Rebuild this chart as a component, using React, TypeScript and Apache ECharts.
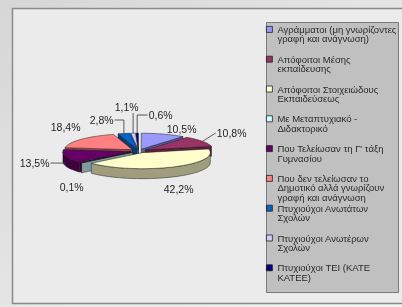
import React, { useEffect, useRef } from 'react';
import * as echarts from 'echarts';

// ---- data ----
const categories = [
  'Αγράμματοι (μη γνωρίζοντες\nγραφή και ανάγνωση)',
  'Απόφοιτοι Μέσης\nεκπαίδευσης',
  'Απόφοιτοι Στοιχειώδους\nΕκπαιδεύσεως',
  'Με Μεταπτυχιακό -\nΔιδακτορικό',
  "Που Τελείωσαν τη Γ' τάξη\nΓυμνασίου",
  'Που δεν τελείωσαν το\nΔημοτικό αλλά γνωρίζουν\nγραφή και ανάγνωση',
  'Πτυχιούχοι Ανωτάτων\nΣχολών',
  'Πτυχιούχοι Ανωτέρων\nΣχολών',
  'Πτυχιούχοι ΤΕΙ (ΚΑΤΕ\nΚΑΤΕΕ)',
];
const values = [10.5, 10.8, 42.2, 0.1, 13.5, 18.4, 2.8, 1.1, 0.6];
const colors = ['#9999FF', '#993366', '#FFFFCC', '#CCFFFF', '#660066', '#FF8080', '#0066CC', '#CCCCFF', '#000080'];

// ---- layout ----
const CX = 138.6;
const CY = 151;
const RX = 68;
const RY = 16;
const H = 10;
const EXPLODE = 8;
const labelOffsets: number[][] = [
  [43, -22], [93, -18], [40, 38], [-67, 36], [-104, 12], [-73, -24], [-37, -31], [-12, -44], [22, -36],
];
const leaderKinds = ['none', 'toLeftEdge', 'none', 'none', 'toRightEdge', 'none', 'elbowLeft', 'up', 'elbowRight'];
const LABEL_FONT = 10.5;
const LEGEND_FIRST = 29;
const LEGEND_STEP = 29.8;
const LEGEND_LH = 9.5;

const total = values.reduce((a, b) => a + b, 0);
const startAngles = values.map((_, i) => (values.slice(0, i).reduce((a, b) => a + b, 0) / total) * 360);

function shade(hex: string, f: number) {
  const n = parseInt(hex.slice(1), 16);
  const r = Math.round(((n >> 16) & 255) * f);
  const g = Math.round(((n >> 8) & 255) * f);
  const b = Math.round((n & 255) * f);
  return `rgb(${r},${g},${b})`;
}

const charW: Record<string, number> = { ',': 0.278, '%': 0.889 };
function textW(s: string) {
  let w = 0;
  for (const c of s) w += (charW[c] ?? 0.556) * LABEL_FONT;
  return w;
}

const rad = (d: number) => (d * Math.PI) / 180;

function makeRenderItem(i: number) {
  return (_params: any, api: any) => {
    const v = api.value(0) as number;
    const a0 = startAngles[i];
    const a1 = a0 + (v / total) * 360;
    const m = (a0 + a1) / 2;
    const ox = EXPLODE * Math.sin(rad(m));
    const oy = -EXPLODE * (RY / RX) * Math.cos(rad(m));
    const P = (deg: number, drop = 0) => [CX + ox + RX * Math.sin(rad(deg)), CY + oy - RY * Math.cos(rad(deg)) + drop];
    const C = [CX + ox, CY + oy];
    const Cb = [C[0], C[1] + H];
    const arc = (from: number, to: number, drop: number) => {
      const n = Math.max(2, Math.ceil(Math.abs(to - from) / 2));
      const pts: number[][] = [];
      for (let k = 0; k <= n; k++) pts.push(P(from + ((to - from) * k) / n, drop));
      return pts;
    };
    const depth = -Math.cos(rad(m));
    const zBase = Math.round((depth + 1) * 1000) * 4;
    const side = shade(colors[i], 0.62);
    const stroke = '#1a1a1a';
    const children: any[] = [];
    if (Math.sin(rad(a0)) < -1e-6) {
      children.push({ type: 'polygon', z2: zBase, shape: { points: [C, P(a0), P(a0, H), Cb] }, style: { fill: side, stroke, lineWidth: 0.5 } });
    }
    if (Math.sin(rad(a1)) > 1e-6) {
      children.push({ type: 'polygon', z2: zBase, shape: { points: [C, P(a1), P(a1, H), Cb] }, style: { fill: side, stroke, lineWidth: 0.5 } });
    }
    const lo = Math.max(a0, 90);
    const hi = Math.min(a1, 270);
    if (hi > lo) {
      children.push({ type: 'polygon', z2: zBase + 1, shape: { points: [...arc(lo, hi, 0), ...arc(hi, lo, H)] }, style: { fill: side, stroke, lineWidth: 0.5 } });
    }
    children.push({ type: 'polygon', z2: zBase + 2, shape: { points: [C, ...arc(a0, a1, 0)] }, style: { fill: colors[i], stroke, lineWidth: 0.5 } });

    // label
    const txt = ((v / total) * 100).toFixed(1).replace('.', ',') + '%';
    const L = [CX + labelOffsets[i][0], CY + labelOffsets[i][1]];
    const hw = textW(txt) / 2;
    children.push({
      type: 'text', z2: 100000,
      style: { text: txt, x: L[0], y: L[1], align: 'center', verticalAlign: 'middle', fill: '#1e1e1e', font: `${LABEL_FONT}px "Liberation Sans", Arial, sans-serif` },
    });
    const Pm = P(m);
    let pts: number[][] | null = null;
    switch (leaderKinds[i]) {
      case 'toLeftEdge': pts = [Pm, [L[0] - hw - 1, L[1]]]; break;
      case 'toRightEdge': pts = [[L[0] + hw + 1, L[1]], [Pm[0], Pm[1] + H * 0.7]]; break;
      case 'elbowLeft': pts = [Pm, [Pm[0], L[1]], [L[0] + hw + 1, L[1]]]; break;
      case 'elbowRight': pts = [Pm, [Pm[0], L[1]], [L[0] - hw - 1, L[1]]]; break;
      case 'up': pts = [Pm, [Pm[0], L[1] + 6]]; break;
    }
    if (pts) children.push({ type: 'polyline', z2: 99999, shape: { points: pts }, style: { stroke: '#333', lineWidth: 0.8, fill: 'none' } });
    return { type: 'group', children };
  };
}

export default function App() {
  const ref = useRef<HTMLDivElement>(null);
  useEffect(() => {
    if (!ref.current) return;
    const chart = echarts.init(ref.current, null, { renderer: 'svg' });
    const legends = categories.map((name, i) => {
      const lines = name.split('\n').length;
      const itemH = lines * LEGEND_LH;
      const sqTop = LEGEND_LH / 2 - 3;
      // square icon sitting on the first text line; trailing moves set the item's extent
      const icon = `path://M0,${sqTop}L6,${sqTop}L6,${sqTop + 6}L0,${sqTop + 6}Z M0,0 M6,${itemH}`;
      return {
        data: [name],
        orient: 'vertical',
        left: 266,
        top: LEGEND_FIRST + LEGEND_STEP * i - LEGEND_LH / 2,
        padding: 0,
        itemWidth: 6,
        itemHeight: itemH,
        icon,
        selectedMode: false,
        itemStyle: { borderColor: '#222', borderWidth: 0.8 },
        textStyle: {
          fontSize: 9.5,
          lineHeight: LEGEND_LH,
          color: '#2a2a2a',
          fontFamily: '"Liberation Sans", Arial, sans-serif',
        },
      };
    });
    chart.setOption({
      animation: false,
      graphic: [
        { type: 'rect', z: 0, silent: true, shape: { x: 0, y: 0, width: 402, height: 307 },
          style: { fill: { type: 'linear', x: 0, y: 0, x2: 1, y2: 1, colorStops: [{ offset: 0, color: '#d6d6d6' }, { offset: 1, color: '#f4f4f4' }] } } },
        { type: 'rect', z: 0, silent: true, shape: { x: 12.5, y: 8.5, width: 400, height: 295 },
          style: { fill: '#ebebeb', stroke: '#8a8a8a', lineWidth: 1.5 } },
        { type: 'rect', z: 1, silent: true, shape: { x: 266.5, y: 22.5, width: 132, height: 270 },
          style: { fill: '#c0c0c0', stroke: '#7a7a7a', lineWidth: 1 } },
      ],
      legend: legends,
      series: categories.map((name, i) => ({
        type: 'custom',
        name,
        coordinateSystem: 'none',
        silent: true,
        itemStyle: { color: colors[i] },
        data: [[values[i]]],
        renderItem: makeRenderItem(i),
      })),
    });
    return () => chart.dispose();
  }, []);
  return <div ref={ref} style={{ position: 'fixed', left: 0, top: 0, width: 402, height: 307 }} />;
}
